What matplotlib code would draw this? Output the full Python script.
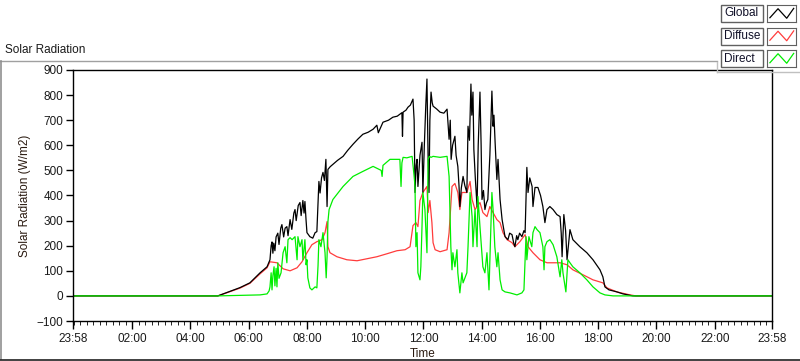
import matplotlib.pyplot as plt
from matplotlib.patches import Rectangle
from matplotlib.lines import Line2D
import numpy as np

plt.rcParams['font.family'] = ['Liberation Sans', 'DejaVu Sans']

# clock hours (23:58 previous day = -2/60) and W/m2
t_global = [-0.033, 4.94, 5.70, 6.04, 6.39, 6.63, 6.73, 6.77, 6.80, 6.83, 6.86, 6.90,
            6.94, 7.00, 7.04, 7.10, 7.14, 7.20, 7.25, 7.31, 7.35, 7.42, 7.48, 7.55,
            7.59, 7.63, 7.70, 7.76, 7.80, 7.86, 7.90, 7.93, 7.97, 8.00, 8.10, 8.20,
            8.28, 8.34, 8.41, 8.45, 8.50, 8.55, 8.60, 8.65, 8.69, 8.72, 8.80, 8.89,
            9.05, 9.24, 9.40, 9.58, 9.75, 9.92, 10.10, 10.27, 10.40, 10.45, 10.61,
            10.80, 10.95, 11.10, 11.26, 11.28, 11.30, 11.40, 11.47, 11.55, 11.64,
            11.68, 11.71, 11.75, 11.78, 11.81, 11.88, 11.95, 11.98, 12.03, 12.08,
            12.12, 12.16, 12.19, 12.22, 12.26, 12.30, 12.33, 12.45, 12.57, 12.70,
            12.81, 12.88, 12.92, 12.95, 13.00, 13.08, 13.12, 13.18, 13.22, 13.25,
            13.30, 13.36, 13.42, 13.49, 13.53, 13.58, 13.63, 13.66, 13.70, 13.73,
            13.78, 13.84, 13.88, 13.94, 13.98, 14.01, 14.06, 14.11, 14.16, 14.21,
            14.28, 14.35, 14.39, 14.42, 14.46, 14.52, 14.56, 14.63, 14.70, 14.80,
            14.90, 14.96, 15.04, 15.10, 15.14, 15.20, 15.24, 15.30, 15.38, 15.45,
            15.49, 15.55, 15.59, 15.65, 15.73, 15.76, 15.83, 15.93, 16.02, 16.10,
            16.17, 16.24, 16.34, 16.45, 16.58, 16.69, 16.73, 16.76, 16.82, 16.88,
            16.93, 17.03, 17.13, 17.37, 17.61, 17.82, 18.06, 18.16, 18.23, 18.37,
            18.64, 18.85, 19.19, 23.967]
global_wm2 = [0, 0, 33, 52, 92, 116, 144, 200, 215, 170, 210, 180,
              235, 250, 205, 270, 284, 235, 270, 276, 240, 304, 265, 330,
              344, 300, 360, 372, 320, 380, 330, 376, 300, 252, 236, 230,
              252, 256, 456, 410, 470, 492, 460, 544, 356, 504, 515, 524,
              540, 556, 580, 604, 625, 644, 652, 664, 680, 650, 692,
              700, 712, 716, 730, 636, 732, 740, 752, 760, 784,
              700, 412, 520, 544, 436, 560, 612, 412, 600, 760,
              864, 544, 412, 700, 812, 770, 756, 745, 732, 728,
              744, 624, 700, 544, 600, 636, 560, 516, 440, 356,
              430, 476, 440, 412, 676, 620, 844, 720, 812, 584,
              470, 356, 600, 812, 600, 384, 420, 344, 370, 384,
              560, 816, 676, 720, 612, 464, 544, 384, 304, 236,
              224, 250, 244, 210, 196, 240, 224, 250, 236, 260,
              252, 512, 412, 470, 436, 356, 432, 432, 400, 356,
              292, 344, 356, 344, 324, 316, 250, 156, 324, 260,
              144, 264, 224, 196, 172, 144, 104, 76, 36, 24,
              16, 8, 0, 0]

t_diffuse = [-0.033, 4.94, 5.70, 6.04, 6.39, 6.63, 6.73, 6.97, 7.18, 7.42, 7.66,
             7.83, 8.00, 8.17, 8.34, 8.52, 8.62, 8.69, 8.72, 8.79, 9.03, 9.37,
             9.72, 10.06, 10.40, 10.75, 11.09, 11.37, 11.54, 11.64, 11.74, 11.81,
             11.88, 11.98, 12.12, 12.16, 12.22, 12.29, 12.33, 12.40, 12.57, 12.81,
             12.88, 12.98, 13.08, 13.18, 13.25, 13.32, 13.49, 13.60, 13.67, 13.77,
             13.94, 14.04, 14.18, 14.28, 14.39, 14.52, 14.63, 14.73, 14.87, 15.04,
             15.14, 15.31, 15.49, 15.59, 15.76, 16.00, 16.24, 16.45, 16.69, 16.93,
             17.13, 17.48, 17.82, 18.16, 18.30, 18.64, 19.09, 19.30, 23.967]
diffuse_wm2 = [0, 0, 31, 50, 88, 112, 136, 132, 108, 100, 112,
               136, 172, 204, 216, 224, 252, 296, 196, 172, 156, 144,
               140, 148, 156, 168, 180, 184, 196, 280, 292, 276,
               380, 412, 436, 332, 380, 292, 212, 184, 176, 184,
               252, 436, 448, 412, 344, 412, 412, 456, 384, 344,
               372, 332, 316, 356, 332, 304, 292, 252, 224, 212,
               196, 216, 244, 196, 172, 144, 132, 132, 132, 124,
               104, 84, 64, 52, 32, 16, 4, 0, 0]

t_direct = [-0.033, 4.94, 6.39, 6.63, 6.70, 6.73, 6.77, 6.80, 6.83, 6.87, 6.90,
            6.94, 6.97, 7.00, 7.04, 7.11, 7.18, 7.25, 7.31, 7.35, 7.42, 7.49,
            7.59, 7.66, 7.69, 7.76, 7.83, 7.86, 7.93, 7.97, 8.00, 8.03, 8.10,
            8.17, 8.28, 8.34, 8.38, 8.41, 8.48, 8.55, 8.62, 8.66, 8.69, 8.72,
            8.76, 8.89, 9.24, 9.58, 9.92, 10.27, 10.55, 10.58, 10.61, 10.85,
            11.19, 11.23, 11.26, 11.30, 11.43, 11.61, 11.68, 11.71, 11.74, 11.78,
            11.81, 11.88, 11.91, 11.95, 11.98, 12.05, 12.12, 12.16, 12.20, 12.26,
            12.33, 12.57, 12.81, 12.88, 12.94, 12.98, 13.01, 13.08, 13.15, 13.18,
            13.25, 13.32, 13.36, 13.49, 13.53, 13.60, 13.67, 13.70, 13.77, 13.84,
            13.87, 13.94, 14.04, 14.11, 14.18, 14.25, 14.35, 14.39, 14.45, 14.52,
            14.56, 14.63, 14.70, 14.80, 14.97, 15.21, 15.38, 15.45, 15.52, 15.55,
            15.62, 15.72, 15.76, 15.83, 15.90, 16.00, 16.10, 16.14, 16.17, 16.24,
            16.34, 16.45, 16.58, 16.69, 16.75, 16.79, 16.89, 16.96, 17.03, 17.13,
            17.37, 17.61, 17.82, 18.06, 18.23, 18.51, 19.16, 23.967]
direct_wm2 = [0, 0, 4, 8, 20, 36, 92, 24, 80, 116, 40,
              110, 36, 132, 70, 92, 172, 196, 132, 224, 232, 224,
              236, 144, 236, 196, 224, 144, 224, 124, 144, 72, 32,
              24, 36, 32, 120, 224, 196, 252, 172, 72, 156, 296,
              344, 384, 436, 476, 496, 516, 500, 476, 520, 544,
              544, 436, 530, 552, 550, 556, 476, 436, 196, 252,
              92, 64, 116, 276, 412, 344, 172, 544, 556, 552,
              556, 552, 556, 476, 196, 104, 172, 116, 184, 92,
              12, 92, 52, 92, 196, 412, 316, 196, 344, 196,
              396, 276, 116, 92, 172, 24, 412, 344, 196, 116,
              172, 64, 24, 16, 12, 4, 12, 24, 236, 144,
              236, 196, 252, 276, 264, 252, 196, 104, 196, 216,
              224, 204, 156, 76, 144, 92, 16, 144, 132, 116,
              92, 64, 36, 12, 4, 0, 0, 0]

tick_pos = [-0.033, 2, 4, 6, 8, 10, 12, 14, 16, 18, 20, 22, 23.967]
tick_lab = ['23:58', '02:00', '04:00', '06:00', '08:00', '10:00', '12:00',
            '14:00', '16:00', '18:00', '20:00', '22:00', '23:58']

txt = '#1a1a1a'
fig = plt.figure(figsize=(8, 3.61), dpi=100)
W, H = 800.0, 361.0

ax = fig.add_axes([73 / W, 1 - 321 / H, 699 / W, 251 / H])
ax.plot(t_diffuse, diffuse_wm2, color='#ff3c3c', lw=0.9)
ax.plot(t_global, global_wm2, color='black', lw=0.9)
ax.plot(t_direct, direct_wm2, color='#00ee00', lw=0.9)

ax.set_xlim(tick_pos[0], tick_pos[-1])
ax.set_ylim(-100, 900)
ax.set_yticks(np.arange(-100, 901, 100))
ax.set_xticks(tick_pos)
ax.set_xticklabels(tick_lab)
minors = [2 + k * 2 / 9 for k in range(-9, 100)]
ax.set_xticks([m for m in minors if tick_pos[0] < m < tick_pos[-1]], minor=True)
ax.tick_params(axis='both', labelsize=8.5, colors='black', labelcolor=txt, width=1)
ax.tick_params(axis='y', length=5, pad=2)
ax.tick_params(axis='x', which='major', length=6, pad=3)
ax.tick_params(axis='x', which='minor', length=3)
for s in ax.spines.values():
    s.set_color('black')
    s.set_linewidth(1.0)
ax.set_ylabel('Solar Radiation (W/m2)', fontsize=8.5, color='#2a1a10', labelpad=4)
ax.set_xlabel('Time', fontsize=8.5, color='#2a1a10', labelpad=2)

# control frame
fig.add_artist(Line2D([0, 717 / W], [1 - 61 / H] * 2, color='#a0a0a0', lw=1))
fig.add_artist(Line2D([0.6 / W] * 2, [1 - 61 / H, 1 - 359 / H], color='#909090', lw=1.2))
fig.add_artist(Line2D([0, 1], [1 - 359.5 / H] * 2, color='#202020', lw=1.2))
fig.add_artist(Line2D([717 / W] * 2, [1 - 62 / H, 1 - 72 / H], color='#c0c0c0', lw=1))
fig.add_artist(Line2D([717 / W, 1], [1 - 72 / H] * 2, color='#c0c0c0', lw=1))
fig.text(5 / W, 1 - 50 / H, 'Solar Radiation', fontsize=8.5, color=txt, va='center', ha='left')

# legend
names = ['Global', 'Diffuse', 'Direct']
colors = ['black', '#ff3c3c', '#00ee00']
tops = [5, 27.5, 50]
for name, c, top in zip(names, colors, tops):
    fig.add_artist(Rectangle((721 / W, 1 - (top + 17) / H), 42 / W, 17 / H,
                             transform=fig.transFigure, fc='white', ec='#606060', lw=1))
    fig.text(724 / W, 1 - (top + 8.5) / H, name, fontsize=8.5, color='#101028', va='center')
    sax = fig.add_axes([767 / W, 1 - (top + 17) / H, 29 / W, 17 / H])
    sax.plot([0.1, 0.38, 0.68, 0.92], [0.25, 0.78, 0.22, 0.8], color=c, lw=0.9)
    sax.set_xlim(0, 1)
    sax.set_ylim(0, 1)
    sax.set_xticks([])
    sax.set_yticks([])
    for s in sax.spines.values():
        s.set_color('#606060')

fig.savefig('out.png', dpi=100)
